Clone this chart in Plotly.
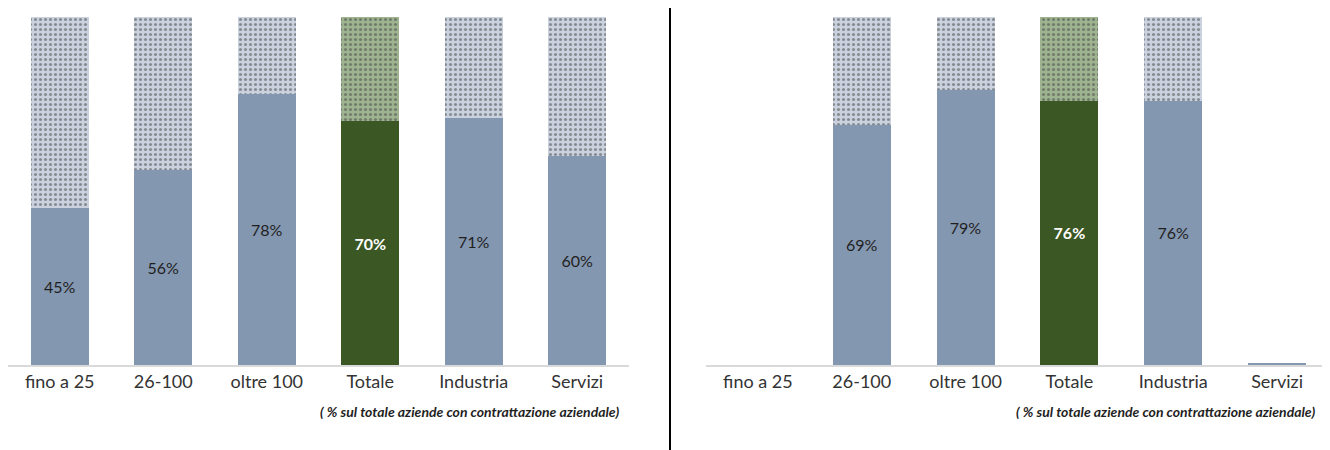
import plotly.graph_objects as go
from plotly.subplots import make_subplots

categories = ["fino a 25", "26-100", "oltre 100", "Totale", "Industria", "Servizi"]
left_values = [45, 56, 78, 70, 71, 60]
left_rest = [55, 44, 22, 30, 29, 40]
right_values = [None, 69, 79, 76, 76, 0.3]
right_rest = [None, 31, 21, 24, 24, None]
right_labels = ["", "69%", "79%", "76%", "76%", ""]
left_labels = ["45%", "56%", "78%", "70%", "71%", "60%"]
subtitle = "( % sul totale aziende con contrattazione aziendale)"

FONT = "Lato"
BLUE = "#8497b0"
GREEN = "#3b5723"
BLUE_BG = "#c9d2de"
BLUE_FG = "#b7c2d1"
GREEN_BG = "#9eb390"
GREEN_FG = "#8ba47c"

W, H = 1330, 450
OFF = 8  # page body margin
fig = make_subplots(rows=1, cols=2)


def colors(base_blue, base_green):
    return [base_green if c == "Totale" else base_blue for c in categories]


def add_panel(values, rest, labels, col):
    txt = [f"<b>{t}</b>" if c == "Totale" and t else t for c, t in zip(categories, labels)]
    fig.add_trace(go.Bar(
        x=categories, y=values, text=txt, textposition="inside",
        insidetextanchor="middle", textangle=0,
        textfont=dict(family=FONT, size=16,
                      color=["#ffffff" if c == "Totale" else "#1f1f1f" for c in categories]),
        marker=dict(color=colors(BLUE, GREEN), line=dict(width=0)),
        width=0.56, showlegend=False, hoverinfo="skip",
    ), row=1, col=col)
    fig.add_trace(go.Bar(
        x=categories, y=rest,
        marker=dict(color=colors(BLUE_BG, GREEN_BG), line=dict(width=0),
                    pattern=dict(shape=".", size=5, solidity=0.3,
                                 fgcolor=colors(BLUE_FG, GREEN_FG),
                                 bgcolor=colors(BLUE_BG, GREEN_BG),
                                 fillmode="overlay")),
        width=0.56, showlegend=False, hoverinfo="skip",
    ), row=1, col=col)


add_panel(left_values, left_rest, left_labels, 1)
add_panel(right_values, right_rest, right_labels, 2)

top, bottom = 17 - OFF, 365 - OFF
ax_common = dict(showgrid=False, zeroline=False, ticks="", showline=True,
                 linecolor="#d9d9d9", linewidth=1.5,
                 tickfont=dict(family=FONT, size=18, color="#333333"),
                 range=[-0.5, 5.5], fixedrange=True)
fig.update_xaxes(**ax_common)
fig.update_xaxes(domain=[(8 - OFF) / W, (629 - OFF) / W], row=1, col=1)
fig.update_xaxes(domain=[(706 - OFF) / W, (1329 - OFF) / W], row=1, col=2)
fig.update_yaxes(range=[0, 100], visible=False, fixedrange=True)

for xr in (621 - OFF, 1317 - OFF):
    fig.add_annotation(xref="paper", yref="paper", x=xr / W,
                       y=(bottom - (411 - OFF)) / (bottom - top),
                       text=f"<b><i>{subtitle}</i></b>", showarrow=False,
                       xanchor="right", yanchor="middle",
                       font=dict(family=FONT, size=14, color="#1f1f1f"))

fig.add_shape(type="line", xref="paper", yref="paper",
              x0=(670 - OFF) / W, x1=(670 - OFF) / W,
              y0=(bottom - 0) / (bottom - top), y1=(bottom - H) / (bottom - top),
              line=dict(color="#000000", width=2))

fig.update_layout(
    width=W, height=H, barmode="stack", bargap=0.44,
    margin=dict(l=0, r=0, t=top, b=H - bottom),
    paper_bgcolor="white", plot_bgcolor="white",
    font=dict(family=FONT),
)

fig.write_html("out.html")
